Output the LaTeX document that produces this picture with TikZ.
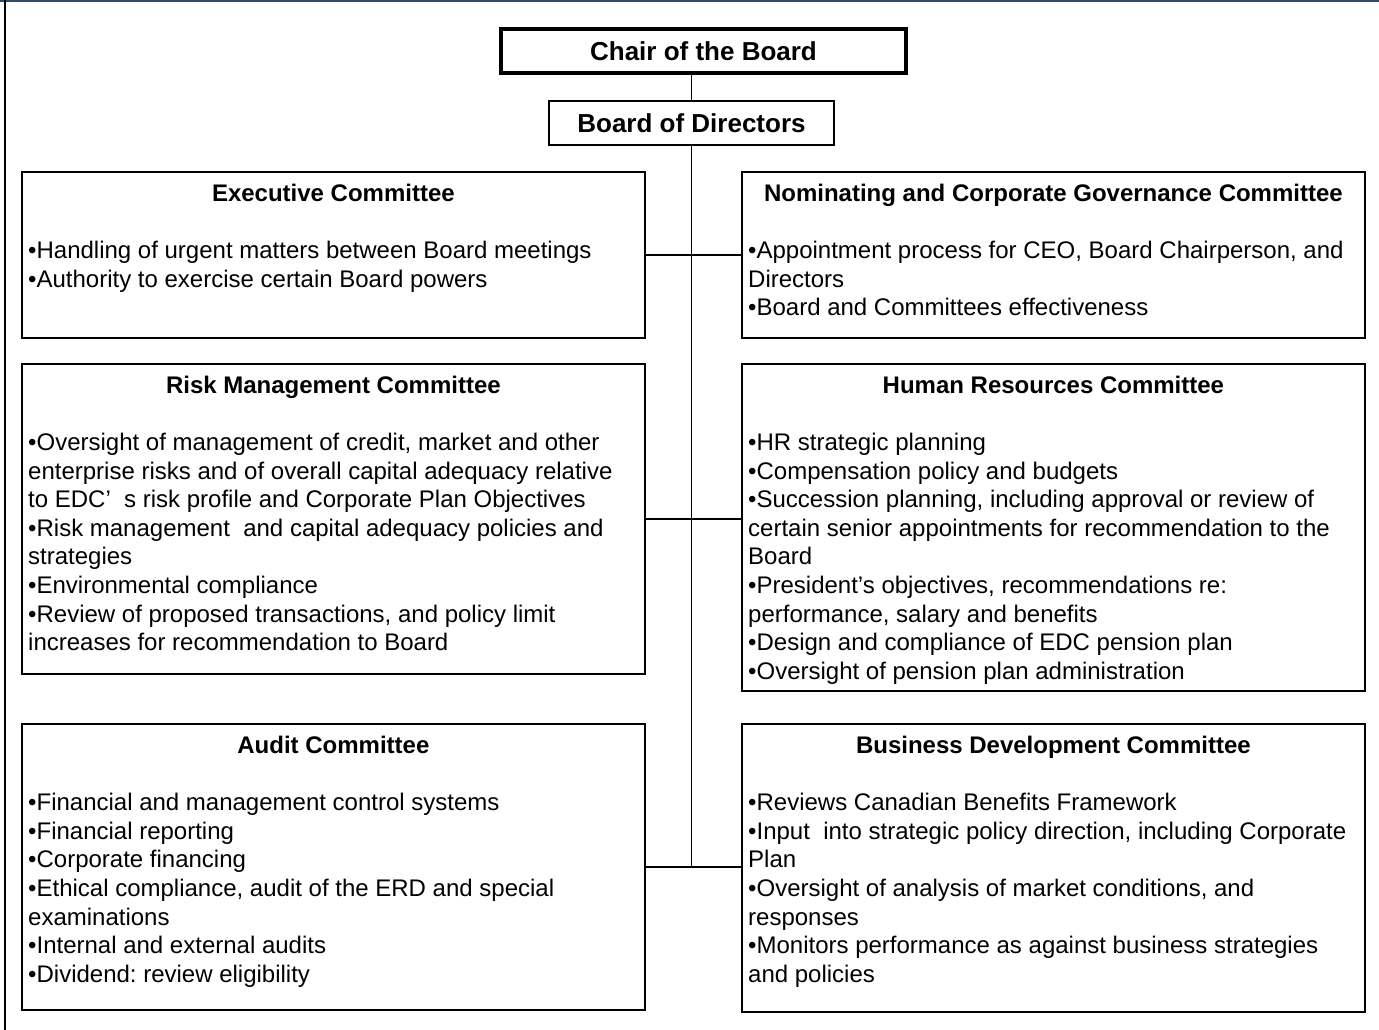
\documentclass[tikz,border=0pt]{standalone}
\usepackage{fontspec}
\setmainfont{Liberation Sans}
\usetikzlibrary{positioning}
\definecolor{framebar}{RGB}{47,77,107}
\newcommand{\bul}{\textbullet}
\frenchspacing

\tikzset{
  cbox/.style={draw=black, line width=1.8pt, minimum width=623pt, inner sep=0pt, anchor=north west},
  ctitle/.style={font=\fontsize{24}{28}\selectfont\bfseries, anchor=base, inner sep=0pt},
  clist/.style={font=\fontsize{24}{28.6}\selectfont, align=left, anchor=north west, inner sep=0pt},
  topbox/.style={draw=black, inner sep=0pt, font=\fontsize{26}{30}\selectfont\bfseries},
  link/.style={line width=1.8pt}
}

\begin{document}
\begin{tikzpicture}[x=1pt,y=-1pt]
\useasboundingbox (0,0) rectangle (1379,1030);
% page frame
\draw[framebar, line width=2.5pt] (0,1.2) -- (1379,1.2);
\draw[line width=1.8pt] (5,0) -- (5,1030);

% chair and board
\node[topbox, line width=4pt, minimum width=405pt, minimum height=44pt] (chair) at (703.5,51) {Chair of the Board};
\node[topbox, line width=1.8pt, minimum width=285pt, minimum height=44pt] (board) at (691.5,123) {Board of Directors};

% committee boxes
\node[cbox, minimum height=166pt] (exec) at (21,171) {};
\node[cbox, minimum height=166pt] (nom) at (741,171) {};
\node[cbox, minimum height=310pt] (risk) at (21,363) {};
\node[cbox, minimum height=327pt] (hr) at (741,363) {};
\node[cbox, minimum height=286pt] (audit) at (21,723) {};
\node[cbox, minimum height=288pt] (bizdev) at (741,723) {};

% headings
\node[ctitle] (exechead) at ([yshift=-30pt]exec.north) {Executive Committee};
\node[ctitle] (nomhead) at ([yshift=-30pt]nom.north) {Nominating and Corporate Governance Committee};
\node[ctitle] (riskhead) at ([yshift=-30pt]risk.north) {Risk Management Committee};
\node[ctitle] (hrhead) at ([yshift=-30pt]hr.north) {Human Resources Committee};
\node[ctitle] (audithead) at ([yshift=-30pt]audit.north) {Audit Committee};
\node[ctitle] (bizdevhead) at ([yshift=-30pt]bizdev.north) {Business Development Committee};

% duties
\node[clist] (execlist) at ([xshift=7pt,yshift=-70pt]exec.north west) {%
\bul Handling of urgent matters between Board meetings\\
\bul Authority to exercise certain Board powers};
\node[clist] (nomlist) at ([xshift=7pt,yshift=-70pt]nom.north west) {%
\bul Appointment process for CEO, Board Chairperson, and\\
Directors\\
\bul Board and Committees effectiveness};
\node[clist] (risklist) at ([xshift=7pt,yshift=-70pt]risk.north west) {%
\bul Oversight of management of credit, market and other\\
enterprise risks and of overall capital adequacy relative\\
to EDC’\ \ s risk profile and Corporate Plan Objectives\\
\bul Risk management\ \ and capital adequacy policies and\\
strategies\\
\bul Environmental compliance\\
\bul Review of proposed transactions, and policy limit\\
increases for recommendation to Board};
\node[clist] (hrlist) at ([xshift=7pt,yshift=-70pt]hr.north west) {%
\bul HR strategic planning\\
\bul Compensation policy and budgets\\
\bul Succession planning, including approval or review of\\
certain senior appointments for recommendation to the\\
Board\\
\bul President’s objectives, recommendations re:\\
performance, salary and benefits\\
\bul Design and compliance of EDC pension plan\\
\bul Oversight of pension plan administration};
\node[clist] (auditlist) at ([xshift=7pt,yshift=-70pt]audit.north west) {%
\bul Financial and management control systems\\
\bul Financial reporting\\
\bul Corporate financing\\
\bul Ethical compliance, audit of the ERD and special\\
examinations\\
\bul Internal and external audits\\
\bul Dividend: review eligibility};
\node[clist] (bizdevlist) at ([xshift=7pt,yshift=-70pt]bizdev.north west) {%
\bul Reviews Canadian Benefits Framework\\
\bul Input\ \ into strategic policy direction, including Corporate\\
Plan\\
\bul Oversight of analysis of market conditions, and\\
responses\\
\bul Monitors performance as against business strategies\\
and policies};

% reporting lines
\draw[link] (chair.south -| board) -- (board);
\draw[link] (board) -- (board |- audit.east);
\draw[link] (exec.east) -- (exec.east -| nom.west);
\draw[link] (risk.east) -- (risk.east -| hr.west);
\draw[link] (audit.east) -- (audit.east -| bizdev.west);
\end{tikzpicture}
\end{document}
